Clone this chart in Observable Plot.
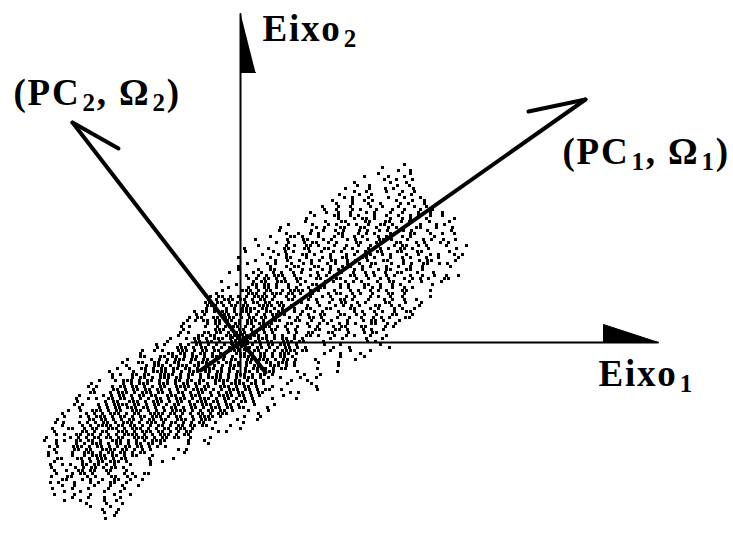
<!DOCTYPE html>
<html>
<head>
<meta charset="utf-8">
<script src="https://cdn.jsdelivr.net/npm/d3@7"></script>
<script src="https://cdn.jsdelivr.net/npm/@observablehq/plot@0.6"></script>
<style>
  html, body { margin: 0; padding: 0; background: #fff; }
  #chart svg { display: block; background: #fff; }
</style>
</head>
<body>
<div id="chart"></div>
<script>
// ---- Point cloud (units centred on the axes' origin, y up) ----
// each row: [y, x of first cell, pattern]; "#" = a dot, "." = no dot, one character per 4 units
const cellWidth = 4;
const cloudRows = [
  [178, 140, "......#."],
  [175, 138, ".#......"],
  [172, 134, "......#..#"],
  [169, 130, "..#.......#"],
  [166, 124, "#.....#...#"],
  [163, 120, "......#..#...#"],
  [160, 114, "#........#...#"],
  [157, 109, "..#..#......#..#"],
  [154, 105, "#.....#...#.#....#"],
  [151, 102, "...#..#....#...#..#"],
  [148, 99, "#....#..#......#..#"],
  [145, 96, "..#.#...#....#...#...#"],
  [142, 92, "#....#..#.#.....#...#..#"],
  [139, 88, "..#...#...#..#....#.#...#"],
  [136, 82, "#...#..#....#..#...#...#..#"],
  [133, 76, "..#..#...#.#...#...#..#...#..#"],
  [130, 70, "#...#..#..#...#.#...#..#...#..#..#"],
  [127, 66, "..#....##..#.#...#..#..#..#.#..#..#."],
  [124, 62, ".#.......#...#.##.#...#..#.#...#......#."],
  [121, 53, "...#....#...##....##...##..#.#....#....#"],
  [118, 48, "#.....#...#.#..#.#..#..##.#...#..#...#.#.."],
  [115, 40, "#........#.#...##...##..#..#.#....##...#...#"],
  [112, 35, ".#.......#..#..#.#...#.#..#.#..##.#...#.....#..."],
  [109, 26, ".....#..#..#.#....##...#.#.#...##...##...#..#..#"],
  [106, 22, "..#....##.#...#...#.#..#.#...#.##..#.#.....#...."],
  [103, 15, "#.......#...##...#.#...#.#..#..##.#...#...#.#..#..#."],
  [100, 12, "......#..#...#.##..#.#....##...##...##...#.#...#.#......"],
  [97, 6, "...#......#.#..##.#...#..#..#..#.#...#.##..#.#....#....#"],
  [94, 4, "#.....#...##...##...##...#.#...#..#.#..##.#...#......#.."],
  [91, 1, ".#......#..#.#...#..#..#.#...#.#..##...##...##......#..."],
  [88, 2, ".....#...#.#...##.#...#...#.#..##..#.#...#..#..#.#...#.#"],
  [85, -2, "#.......#...##...#...#.#..##...##.#...#..#.#...#..#....#"],
  [82, -1, "....#....#..#..#..#.#..##..#.#..#...##...#...#.##.....#."],
  [79, -5, "...#....#.#...#..#.#...#.#..#..#..##...#..#.#..##..#.#.."],
  [76, -6, ".#.......#...#.##...##..#..#.#..#.#...#..#..#..#......#."],
  [73, -10, "..#....#..##...#..#.#..#.#.#...#.#...#.##...##..#......."],
  [70, -11, "#.....#.#..#.#..#.#...#..#..#..#..#.#..#..##...#...#...."],
  [67, -14, ".....#..#.#.###..#...#.#.#.#...##..#.#..#.#...#..#..#..#..#."],
  [64, -16, "......#.#.##.#.#..##...##...##...#..#..#.#...#.#.#.#...##..."],
  [61, -19, "#.......#.##..###..#.#....#.#..#.#.#...#..##...#..#....#"],
  [58, -20, "....#...##.##.#..#..#..##.#...#.#...##..#..#.#.......#.."],
  [55, -24, "...#....#.#.##.#..#.#..#..##...#.#...#.#.#..#..#.#......"],
  [52, -26, "..#....###.#.##..#.####.#.#...#...#.#..#.#.#...##.....#."],
  [49, -28, ".#.......###.#.###.##.#..#...#.##..#.#..#...##..#......."],
  [46, -30, "#.##.#.#.#.####.#..#.#..##..#.#...#.#...#.#..#..#......#."],
  [43, -32, "#.#.###.##.#.##.#...##...#.#...#.##.#...#...#.#..#..#..."],
  [40, -35, "##.##.#.#.#.##.##.##...##...#..#..##..#.#....##...#...#."],
  [37, -37, ".###.#.##.##..####.##.#...#..#...#.#.#.#...##..#.#....#."],
  [34, -42, "..#.#..#.#.####.##.#.#..#..##...##....##...#.#...#.#..#"],
  [31, -46, "#.##.#.##.#.###.#.##.##..#.#..#.#...#...#.#..#.#..#..##.."],
  [28, -48, ".#.#...###.##.#.#.#.##.#...#.#..##...##..#.#..#...##...#"],
  [25, -51, "#.##..##.###.#.##.##.#...#.#..##.#...#..#..#..#.#.#...##"],
  [22, -53, "#.#.##.##.##.#.###.#.###...##..#..#.#...#...#.##.#...#."],
  [19, -57, "#.....#.##.#.##.##.##.#...##...#..#.#..#.#.#...##..#.#.."],
  [16, -59, "#.#...#..#.####.#.#.###.#.#..#..#.#...#.##...##....#.#.."],
  [13, -61, ".#.......###.#.##.#.##.##..#.#....##...##.#...#.#..#.."],
  [10, -64, ".#.#...##.##.#.###.##.#.#...#.#..##...##...#...#.##...."],
  [7, -70, "..#....##.##..####.#.##.#.#.#..#..##.#...#..#.#...#...#"],
  [4, -74, ".#...#.##.#.###.#.#.##.###.#.##.#.#......#..#.....#...#."],
  [1, -77, ".#......##.##.#..###.#.##.##..###.##....#..........#.#..."],
  [-2, -84, "#.#...#.#.##.#.#.#.####.#.#.##.###.#......#...#.........#."],
  [-5, -91, "..#....###.#.##.#.#.###.##.##.#.#.##.#.#......#...#.........#"],
  [-8, -98, "#..#.#...###.#.##.##..###.#.##.#.#.####.##.....#....#....#..."],
  [-11, -104, ".#......##.##.#.##.#.##..###.#.##.#.###.#......#...#....#...."],
  [-14, -108, "..##...##.##.#.##.#.##.#.#.####.##.#.##.#...........#.....#."],
  [-17, -113, "#.....#.#.#.###.##.##.#.#.##..##.###.#.##.#....#.........#."],
  [-20, -118, "#...##..##.#.##..#.####.#.##.#.##.#.##.###.#.....#....#...."],
  [-23, -122, "..#....#.###.#.###.##.#.#.#.###.#.##..###.#.#..........#.."],
  [-26, -127, ".#..#..##.#.##.##.##.#.###.#.##..#.####.#.##.......#..."],
  [-29, -131, "#.....#..#.####.#.#.###.##.##.#.#.##.#.###.....#.........#"],
  [-32, -136, "..#.#..##.##..####.#.##.#.#.##.#.###.#.##.#.......#...#...."],
  [-35, -140, "...#....#.##.#.###.##.#..#.####.#.#.###.#.#..#....#...#..."],
  [-38, -145, ".#...#.###.#.##.#.#.##.##.##..####.##.#.#.#......#...#....."],
  [-41, -149, "#.......#.#.###..###.#.##.##.#.#.#.####.##.#.....#.....#.."],
  [-44, -152, "#.#...#.##.##.#.#.##..####.#.##..###.#.##.#...#..........#"],
  [-47, -155, "..#....##.#.##.##.##.#.#.#.####.#.#.###.##.#.##..#........#"],
  [-50, -158, "..##...#.###.#.###.##.#.##.#.##.#.#.##.##.#.##......#.#.."],
  [-53, -161, "#.....#.#.##.#.##.##..###.#.###..#.####.##.#.#.....#....."],
  [-56, -164, "#..#.#..##.##.#.#.#.##.#.###.#.###.#.##.#.#.#....#.....#"],
  [-59, -167, ".#......#.##..###.#.###.#.##.#.###.##.#.#.##.#.........."],
  [-62, -170, ".#.#...#.#.####.##.#.##.#.##..##.###.#.##.#...#....#..."],
  [-65, -173, "...#....#.#.##.###.##.#.#.##.#.##.#.###.##.##.....#...."],
  [-68, -176, ".#..#..###.#.##..###.#.#.#.####.#.#.##.##.#...#....#.."],
  [-71, -178, "#.....#.#.#.###.#.##..####.##.#.#.##.#.###.......#...."],
  [-74, -180, ".#...#.#.###.#.##.#.##.###.#.##..#.####.#.....#...#.."],
  [-77, -183, "#.......##.##.#.#.##.#.##.##..###.#.###......#....#"],
  [-80, -185, "#.#...#.#.#.##.#.###.#.###.#.##.#.#.##..#......#.."],
  [-83, -186, "..#....#.#.####.##.##.#.#.##.#.##.##.##.....#...."],
  [-86, -188, "#...##..#.##..###.#.###.#.#.##.###.#....#......#"],
  [-89, -190, ".#......##.#.##..###.#.###.##.#.#.##......#.#.."],
  [-92, -192, "..#.#..##.##.#.#.#.####.#.#.###.#.##.........."],
  [-95, -194, "#.....#.#.#.##.##.##..####.#.##.##..#....#..."],
  [-98, -196, "#..#.#..##.##.#..###.#.#.#.####.....#...#.."],
  [-101, -196, "...#....#.#.###.#.##.#.##.##.#......#....#"],
  [-104, -195, ".#.#...###.#.##.#.#.##.##.#.#.#........."],
  [-107, -194, "..#....##.##..####.##.#.#.#......#.#.."],
  [-110, -192, "#.#...#..###.#.##.##.#.##.........#"],
  [-113, -192, "#.....#..#.####.##.#.##...#......."],
  [-116, -191, "..##...##.#.###.#.##.....#.....#"],
  [-119, -190, ".#......#.#.##.###.#.....#..#.."],
  [-122, -190, "#..#.#..##.##.#.#...#....#..."],
  [-125, -189, "#.....#.#.##.#.##.#........"],
  [-128, -190, ".#..#..##.##..##...#......"],
  [-131, -188, ".#...#.##.#...#...#.#..##"],
  [-134, -189, "#...##...#.#...##..#.#.."],
  [-137, -186, "..##...#.#..#..##..#..#"],
  [-140, -190, "#.#...#...#.#..##..#.."],
  [-143, -186, "..#..#....#...#..#...#"],
  [-146, -188, "#....#...#....#...#.."],
  [-149, -184, "..#...#.....#...#..."],
  [-152, -186, "#....#...#.....#...#"],
  [-155, -172, ".#...#...#...#..."],
  [-158, -176, "#...#.....#..#"],
  [-161, -158, ".#....#...#"],
  [-164, -150, "#....#...."],
  [-167, -146, "..#...#.."],
  [-170, -136, "#..#"],
  [-173, -130, ".#"],
  [-176, -135, "#"]
];
// extra dots of the dark knot where the vectors cross: [y, [x...]]
const originDots = [[8, [-4, 2]], [5, [-8, -3, 3]], [2, [-5, 0, 5]], [-1, [-9, -3, 2, 7]], [-4, [-6, 1]], [-7, [-2, 4]]];

// ---- Axes and principal-component vectors (same units) ----
const axisNames   = ["Eixo1", "Eixo2"];
const axisFrom    = [[-50, 0], [0, -35]];
const axisTo      = [[418, 0], [0, 329]];
const axisHeads   = [ // filled half-triangle arrowheads
  [[363, 0], [363, 18], [418, 0]],
  [[0, 329], [0, 270], [15, 270]]
];
const pcNames     = ["PC1", "PC2"];
const pcFrom      = [[-40, -28], [25, -30]];
const pcTo        = [[345, 243], [-168, 220]];
const pcBarbEnd   = [[288, 231], [-122, 194]];

// ---- Labels ----
const labelText = ["Eixo_1", "Eixo_2", "(PC_1, Ω_1)", "(PC_2, Ω_2)"];
const labelX    = [358, 22, 322, -227];
const labelY    = [-43, 302, 179, 238];

// ---- build tables ----
const cloud = cloudRows.flatMap(([y, x0, s]) =>
  [...s].flatMap((c, i) => c === "#" ? [{x: x0 + cellWidth * i, y}] : [])
).concat(originDots.flatMap(([y, xs]) => xs.map(x => ({x, y}))));
const axisLines = axisNames.map((n, i) => ({n, x1: axisFrom[i][0], y1: axisFrom[i][1], x2: axisTo[i][0], y2: axisTo[i][1]}));
const heads = axisHeads.flatMap((tri, i) => tri.map(([x, y]) => ({id: axisNames[i], x, y})));
const pcLines = pcNames.map((n, i) => ({n, x1: pcFrom[i][0], y1: pcFrom[i][1], x2: pcTo[i][0], y2: pcTo[i][1]}));
const pcBarbs = pcNames.map((n, i) => ({n, x1: pcTo[i][0], y1: pcTo[i][1], x2: pcBarbEnd[i][0], y2: pcBarbEnd[i][1]}));
const labels = labelText.map((t, i) => ({t, x: labelX[i], y: labelY[i]}));

const chart = Plot.plot({
  width: 733,
  height: 536,
  margin: 0,
  x: {domain: [-240, 493], axis: null},
  y: {domain: [-194, 342], axis: null},
  style: {background: "#fff"},
  marks: [
    Plot.dot(cloud, {x: "x", y: "y", symbol: "square", r: 1.45, fill: "#000", stroke: "none", shapeRendering: "crispEdges"}),
    Plot.link(axisLines, {x1: "x1", y1: "y1", x2: "x2", y2: "y2", stroke: "#000", strokeWidth: 2, strokeLinecap: "butt"}),
    Plot.line(heads, {x: "x", y: "y", z: "id", fill: "#000", stroke: "#000", strokeWidth: 1}),
    Plot.link(pcLines, {x1: "x1", y1: "y1", x2: "x2", y2: "y2", stroke: "#000", strokeWidth: 4, strokeLinecap: "round"}),
    Plot.link(pcBarbs, {x1: "x1", y1: "y1", x2: "x2", y2: "y2", stroke: "#000", strokeWidth: 4, strokeLinecap: "round"}),
    Plot.text(labels, {x: "x", y: "y", text: "t", textAnchor: "start", lineAnchor: "bottom",
      fontFamily: "'Liberation Serif', 'Times New Roman', serif", fontSize: 37, fontWeight: "bold", fill: "#000"})
  ]
});

// render the "_n" parts as subscripts, widen tracking like the original bitmap font
chart.querySelectorAll("text").forEach(t => {
  const s = t.textContent;
  if (!s.includes("_")) return;
  t.setAttribute("letter-spacing", "1.8");
  const parts = s.split(/_(\d)/);
  t.textContent = "";
  let shifted = false;
  parts.forEach((p, i) => {
    if (p === "") return;
    const ts = document.createElementNS("http://www.w3.org/2000/svg", "tspan");
    ts.textContent = p;
    if (i % 2 === 1) {
      ts.setAttribute("font-size", "25");
      ts.setAttribute("dy", "6");
      ts.setAttribute("dx", "2");
      shifted = true;
    } else if (shifted) {
      ts.setAttribute("dy", "-6");
      shifted = false;
    }
    t.appendChild(ts);
  });
});

document.getElementById("chart").appendChild(chart);
</script>
</body>
</html>
